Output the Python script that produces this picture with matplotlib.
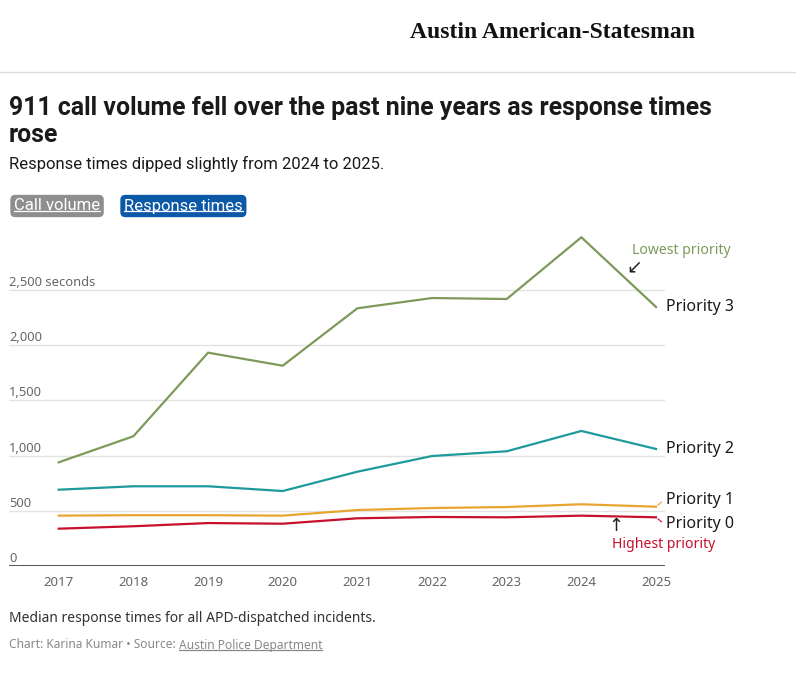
import matplotlib
matplotlib.use("Agg")
import matplotlib.pyplot as plt
from matplotlib.lines import Line2D

years = [2017, 2018, 2019, 2020, 2021, 2022, 2023, 2024, 2025]
priority3 = [939, 1175, 1932, 1814, 2334, 2427, 2418, 2977, 2346]
priority2 = [691, 722, 722, 679, 854, 996, 1039, 1223, 1060]
priority1 = [456, 460, 460, 456, 507, 525, 534, 559, 537]
priority0 = [338, 360, 389, 383, 432, 444, 441, 456, 441]
series_names = ["Priority 3", "Priority 2", "Priority 1", "Priority 0"]
series_vals = [priority3, priority2, priority1, priority0]
series_colors = ["#7d9a5a", "#1f9a9c", "#e8a631", "#c8102e"]
yticks = [0, 500, 1000, 1500, 2000, 2500]
ytick_labels = ["0", "500", "1,000", "1,500", "2,000", "2,500 seconds"]

W, H = 796, 677
FONT = ["Noto Sans", "DejaVu Sans"]
plt.rcParams["font.family"] = FONT

fig = plt.figure(figsize=(W / 100, H / 100), dpi=100)
fig.patch.set_facecolor("white")


def fx(x):
    return x / W


def fy(y):
    return 1 - y / H


# header
fig.text(fx(553), fy(33), "Austin American-Statesman", ha="center", va="center",
         fontsize=17, fontweight="bold", family=["Liberation Serif", "DejaVu Serif"],
         color="#111111")
fig.add_artist(Line2D([0, 1], [fy(72), fy(72)], color="#dddddd", lw=1))

TF = ["Roboto", "DejaVu Sans"]
fig.text(fx(9), fy(108), "911 call volume fell over the past nine years as response times",
         ha="left", va="center", fontsize=17.9, fontweight="bold", family=TF, color="#1a1a1a")
fig.text(fx(9), fy(135), "rose", ha="left", va="center", fontsize=17.9,
         fontweight="bold", family=TF, color="#1a1a1a")
fig.text(fx(9), fy(164), "Response times dipped slightly from 2024 to 2025.",
         ha="left", va="center", fontsize=12, family=TF, color="#1a1a1a")

# buttons
b1 = fig.text(fx(14), fy(206), "Call volume", ha="left", va="center", fontsize=12,
              family=TF, color="white",
              bbox=dict(boxstyle="round,pad=0.22,rounding_size=0.3", fc="#8e8e8e", ec="none"))
b2 = fig.text(fx(124), fy(206), "Response times", ha="left", va="center", fontsize=12,
              family=TF, color="white",
              bbox=dict(boxstyle="round,pad=0.22,rounding_size=0.3", fc="#0b58a6", ec="none"))

# axes
ax_left, ax_right, ax_top, ax_bot = 9, 665, 230, 566
ax = fig.add_axes([fx(ax_left), fy(ax_bot), (ax_right - ax_left) / W, (ax_bot - ax_top) / H])
ax.set_facecolor("none")
ax.set_xlim(2016.334, 2025.12)
ax.set_ylim(0, 3043)
for s in ax.spines.values():
    s.set_visible(False)
ax.set_xticks(years)
ax.set_xticklabels([str(y) for y in years])
ax.tick_params(axis="x", length=0, pad=7, labelsize=9.5, labelcolor="#666666")
ax.set_yticks([])
for t, lab in zip(yticks, ytick_labels):
    if t == 0:
        ax.axhline(0, color="#333333", lw=1.2, zorder=3)
    else:
        ax.axhline(t, color="#e3e3e3", lw=1, zorder=1)
    ax.annotate(lab, (0, t), xycoords=("axes fraction", "data"), xytext=(0, 4),
                textcoords="offset pixels", ha="left", va="baseline", fontsize=9.3,
                color="#666666")

for vals, c in zip(series_vals, series_colors):
    ax.plot(years, vals, color=c, lw=1.6, zorder=4, solid_joinstyle="miter")

label_offsets = [(10, 0), (10, 0), (10, 7), (10, -7)]
for name, vals, c, off in zip(series_names, series_vals, series_colors, label_offsets):
    ax.annotate(name, (years[-1], vals[-1]), xytext=off, textcoords="offset pixels",
                ha="left", va="center", fontsize=11.5, color="#1a1a1a", annotation_clip=False)
    if off[1] != 0:
        ax.annotate("", (years[-1] + 0.1, vals[-1] + off[1] * 0.9 / 0.1104),
                    xytext=(years[-1], vals[-1]),
                    arrowprops=dict(arrowstyle="-", color=c, lw=1, linestyle=(0, (1, 1))),
                    annotation_clip=False)

# annotations
ax.annotate("Lowest priority", (2025, priority3[-1]), xytext=(-24, 56),
            textcoords="offset pixels", ha="left", va="center", fontsize=10.1,
            color=series_colors[0], annotation_clip=False)
ax.annotate("\u2199", (2025, priority3[-1]), xytext=(-22, 40),
            textcoords="offset pixels", ha="center", va="center", fontsize=13.5,
            family=["DejaVu Sans"], color="#222222", annotation_clip=False)
ax.annotate("Highest priority", (2025, priority0[-1]), xytext=(-44, -27),
            textcoords="offset pixels", ha="left", va="center", fontsize=10.1,
            color=series_colors[3], annotation_clip=False)
ax.annotate("\u2191", (2025, priority0[-1]), xytext=(-40, -9),
            textcoords="offset pixels", ha="center", va="center", fontsize=13,
            family=["DejaVu Sans"], color="#222222", annotation_clip=False)

# footer
fig.text(fx(9), fy(619), "Median response times for all APD-dispatched incidents.",
         ha="left", va="center", fontsize=10, color="#333333")
t1 = fig.text(fx(9), fy(645), "Chart: Karina Kumar • Source: ", ha="left", va="center",
              fontsize=8.6, color="#888888")
fig.canvas.draw()
r = fig.canvas.get_renderer()
bb = t1.get_window_extent(r)
t2 = fig.text(bb.x1 / W, fy(645), "Austin Police Department", ha="left", va="center",
              fontsize=8.6, color="#888888")
fig.canvas.draw()


def underline(t, color, off):
    b = t.get_window_extent(r)
    y = b.y0 + off
    fig.add_artist(Line2D([b.x0 / W, b.x1 / W], [y / H, y / H], color=color, lw=0.9,
                          zorder=10))


underline(t2, "#888888", 1.5)
underline(b1, "white", 2.5)
underline(b2, "white", 2.5)

fig.savefig("out.png", dpi=100, facecolor="white")
